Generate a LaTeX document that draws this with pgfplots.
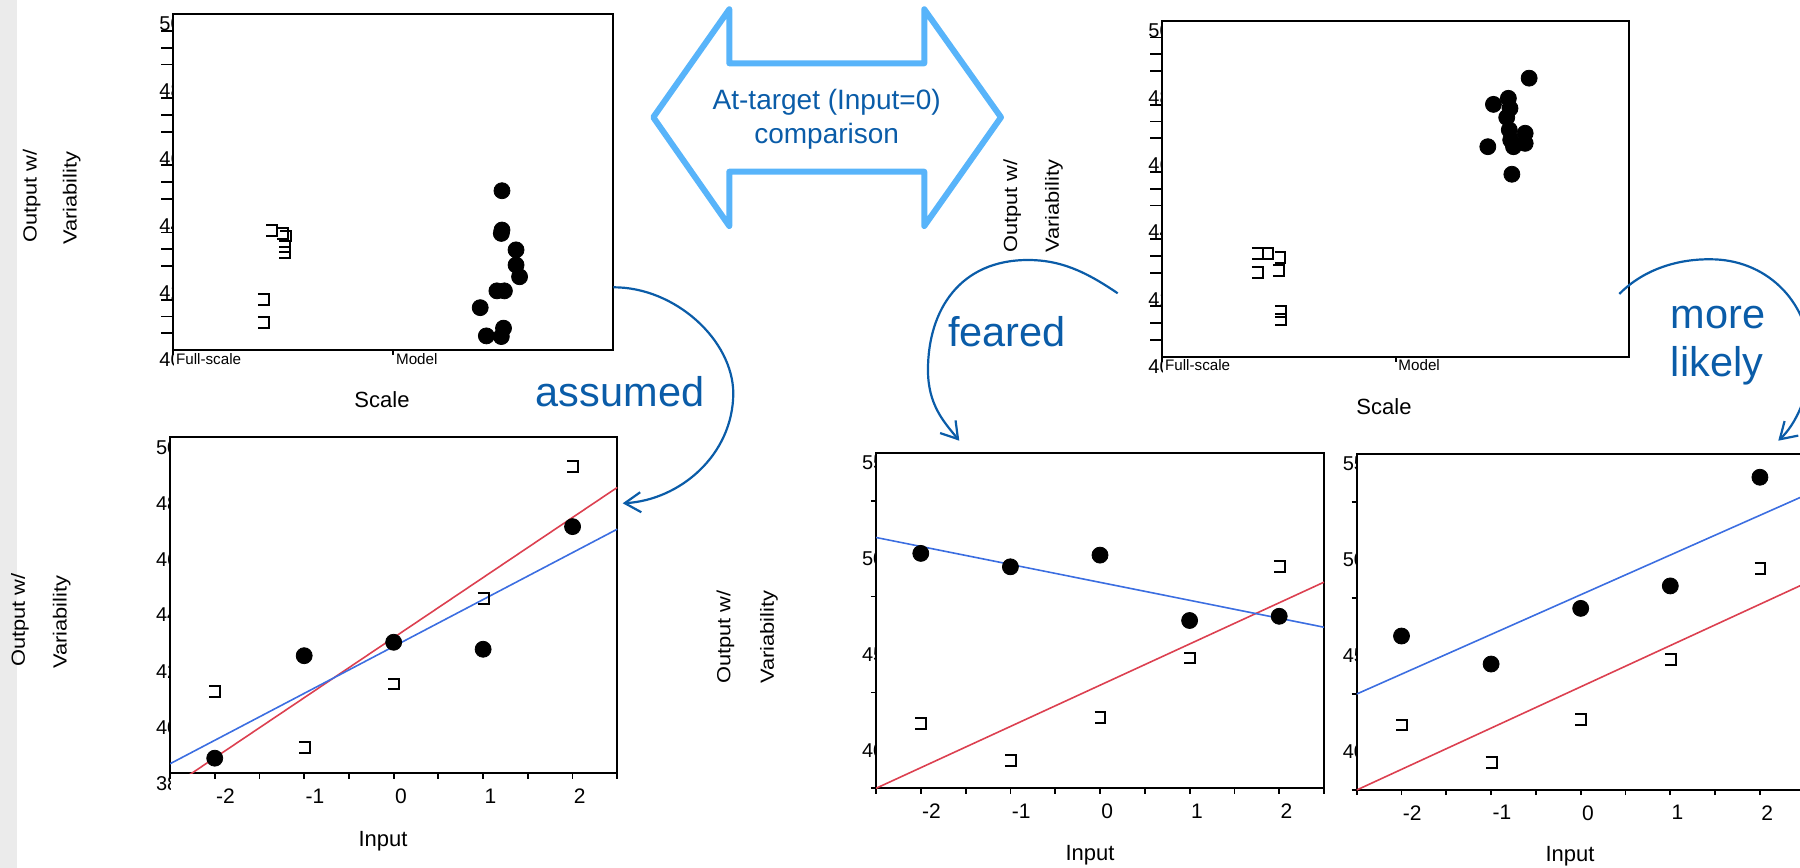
\documentclass[border=0pt]{standalone}
\usepackage{fontspec}
\setmainfont{Liberation Sans}
\newfontfamily\widefont[FakeStretch=1.15]{Liberation Sans}
\usepackage{pgfplots}
\pgfplotsset{compat=1.18}
\usetikzlibrary{arrows.meta}

\definecolor{dblue}{RGB}{10,92,168}
\definecolor{lblue}{RGB}{88,180,250}
\definecolor{fitred}{RGB}{220,64,80}
\definecolor{fitblue}{RGB}{60,110,225}
\definecolor{strip}{RGB}{235,235,235}

% open bracket marker, open on the left
\pgfdeclareplotmark{kbr}{%
  \pgfpathmoveto{\pgfqpoint{-2.7bp}{2.7bp}}%
  \pgfpathlineto{\pgfqpoint{2.7bp}{2.7bp}}%
  \pgfpathlineto{\pgfqpoint{2.7bp}{-2.7bp}}%
  \pgfpathlineto{\pgfqpoint{-2.7bp}{-2.7bp}}%
  \pgfusepathqstroke}

\pgfplotsset{
  lbl/.style={scale only axis, anchor=north west, axis line style={draw=none},
    major tick length=0pt, minor tick length=0pt, tick style={draw=none},
    tick align=inside, xtick=\empty,
    yticklabel style={anchor=north west, inner sep=0pt, xshift=-7.15bp,
      yshift=-1.2bp, font=\fontsize{10bp}{12bp}\selectfont},
    /pgf/number format/assume math mode=true},
  pan/.style={scale only axis, anchor=north west,
    axis line style={line width=1bp},
    tick style={black, line width=0.9bp}, tick align=outside, tick pos=left,
    yticklabels={}, major y tick style={draw=none},
    /pgf/number format/assume math mode=true},
  top/.style={xmin=0, xmax=2, ymin=40, ymax=50,
    ytick={40,42,...,50}, minor y tick num=3,
    major tick length=2.5bp, minor tick length=6bp,
    xtick={0,1}, xticklabels={Full-scale,Model},
    xticklabel style={anchor=north west, inner sep=0pt, xshift=1.2bp,
      yshift=1.1bp, font=\fontsize{7.6bp}{9bp}\selectfont}},
  bot/.style={xmin=-2.5, xmax=2.5, xtick={-2,...,2},
    minor xtick={-2.5,-1.5,...,2.5}, xticklabels={-2,-1,0,1,2},
    major tick length=2.6bp, minor tick length=2.6bp,
    xticklabel style={anchor=north west, inner sep=0pt, xshift=0.5bp,
      yshift=-4.9bp, font=\fontsize{10.5bp}{12bp}\selectfont}},
  dots/.style={only marks, mark=*, mark size=4bp, black},
  brk/.style={only marks, mark=kbr, black, line width=1bp},
  fitr/.style={fitred, line width=0.8bp, no marks},
  fitb/.style={fitblue, line width=0.8bp, no marks},
}

\begin{document}
\begin{tikzpicture}
\useasboundingbox (0,0) rectangle (900bp,-434bp);
\fill[strip] (0,0) rectangle (8.35bp,-434bp);

% ---------- tick labels, cut at the left axis line ----------
\begin{scope}
\clip (50bp,0bp) rectangle (86.65bp,-190bp);
\begin{axis}[lbl, at={(86.65bp,-7bp)}, width=220bp, height=168bp,
  xmin=0, xmax=2, ymin=40, ymax=50, ytick={40,42,...,50}]
\end{axis}
\end{scope}
\begin{scope}
\clip (550bp,0bp) rectangle (581.15bp,-192.5bp);
\begin{axis}[lbl, at={(581.15bp,-10.35bp)}, width=233.35bp, height=168bp,
  xmin=0, xmax=2, ymin=40, ymax=50, ytick={40,42,...,50}]
\end{axis}
\end{scope}
\begin{scope}
\clip (50bp,-210bp) rectangle (85bp,-400bp);
\begin{axis}[lbl, at={(85bp,-218.65bp)}, width=223.65bp, height=168bp,
  xmin=-2.5, xmax=2.5, ymin=38, ymax=50, ytick={38,40,...,50}]
\end{axis}
\end{scope}
\begin{scope}
\clip (410bp,-220bp) rectangle (438bp,-400bp);
\begin{axis}[lbl, at={(438bp,-226.35bp)}, width=224bp, height=167.8bp,
  xmin=-2.5, xmax=2.5, ymin=37.5, ymax=55, ytick={40,45,50,55}]
\end{axis}
\end{scope}
\begin{scope}
\clip (650bp,-220bp) rectangle (678.35bp,-402.5bp);
\begin{axis}[lbl, at={(678.35bp,-227bp)}, width=224bp, height=168bp,
  xmin=-2.5, xmax=2.5, ymin=37.5, ymax=55, ytick={40,45,50,55}]
\end{axis}
\end{scope}

% ---------- top left: Scale ----------
\begin{axis}[pan, top, at={(86.65bp,-7bp)}, width=220bp, height=168bp]
\addplot[brk] coordinates {(0.447,43.56)(0.497,43.46)(0.511,43.39)
  (0.506,43.07)(0.506,42.90)(0.409,41.51)(0.409,40.83)};
\addplot[dots] coordinates {(1.494,44.74)(1.494,43.57)(1.491,43.47)
  (1.558,42.98)(1.558,42.53)(1.574,42.18)(1.471,41.76)(1.505,41.76)
  (1.395,41.26)(1.501,40.65)(1.423,40.42)(1.491,40.40)};
\end{axis}

% ---------- top right: Scale ----------
\begin{axis}[pan, top, at={(581.15bp,-10.35bp)}, width=233.35bp, height=168bp]
\addplot[brk] coordinates {(0.407,43.06)(0.450,43.06)(0.504,42.96)
  (0.407,42.50)(0.497,42.56)(0.507,41.35)(0.507,41.11)};
\addplot[dots] coordinates {(1.572,48.29)(1.419,47.51)(1.483,47.69)
  (1.490,47.39)(1.476,47.12)(1.487,46.75)(1.555,46.65)(1.493,46.45)
  (1.555,46.35)(1.505,46.25)(1.395,46.25)(1.498,45.43)};
\end{axis}

% ---------- bottom left: assumed ----------
\begin{axis}[pan, bot, at={(85bp,-218.65bp)}, width=223.65bp, height=168bp,
  ymin=38, ymax=50, ytick=\empty]
\addplot[fitr] coordinates {(-2.5,37.48)(2.5,48.21)};
\addplot[fitb] coordinates {(-2.5,38.34)(2.5,46.72)};
\addplot[brk] coordinates {(-2,40.91)(-1,38.91)(0,41.19)(1,44.25)(2,48.97)};
\addplot[dots] coordinates {(-2,38.54)(-1,42.20)(0,42.68)(1,42.43)(2,46.81)};
\end{axis}

% ---------- bottom middle: feared ----------
\begin{axis}[pan, bot, at={(438bp,-226.35bp)}, width=224bp, height=167.8bp,
  ymin=37.5, ymax=55, ytick={40,45,50,55}, minor ytick={37.5,42.5,47.5,52.5}]
\addplot[fitr] coordinates {(-2.5,37.5)(2.5,48.25)};
\addplot[fitb] coordinates {(-2.5,50.58)(2.5,45.90)};
\addplot[brk] coordinates {(-2,40.90)(-1,38.94)(0,41.19)(1,44.30)(2,49.08)};
\addplot[dots] coordinates {(-2,49.75)(-1,49.05)(0,49.66)(1,46.25)(2,46.47)};
\end{axis}

% ---------- bottom right: more likely ----------
\begin{axis}[pan, bot, at={(678.35bp,-227bp)}, width=224bp, height=168bp,
  ymin=37.5, ymax=55, ytick={40,45,50,55}, minor ytick={37.5,42.5,47.5,52.5}]
\addplot[fitr] coordinates {(-2.5,37.5)(2.5,48.25)};
\addplot[fitb] coordinates {(-2.5,42.50)(2.5,52.84)};
\addplot[brk] coordinates {(-2,40.89)(-1,38.94)(0,41.18)(1,44.31)(2,49.05)};
\addplot[dots] coordinates {(-2,45.52)(-1,44.06)(0,46.96)(1,48.13)(2,53.79)};
\end{axis}

% ---------- annotations, in pixel units ----------
\begin{scope}[x=0.5bp, y=-0.5bp]
\tikzset{ax/.style={font=\fontsize{11bp}{13bp}\selectfont},
         yl/.style={rotate=90, font=\fontsize{9.5bp}{11bp}\widefont},
         big/.style={dblue, font=\fontsize{20.75bp}{25bp}\selectfont, anchor=base},
         carrow/.style={dblue, line width=1.1bp,
           -{Straight Barb[length=8bp,width=10bp]}}}
\node[ax] at (382,399.5) {Scale};
\node[ax] at (1384,406.7) {Scale};
\node[ax] at (383,841.7) {Input};
\node[ax] at (1090,855) {Input};
\node[ax] at (1570,856.7) {Input};

\node[yl] at (31.7,196) {Output w/};
\node[yl] at (71.7,198) {Variability};
\node[yl] at (20,620) {Output w/};
\node[yl] at (61.7,622) {Variability};
\node[yl] at (1012.3,206) {Output w/};
\node[yl] at (1054,206) {Variability};
\node[yl] at (725.5,637) {Output w/};
\node[yl] at (769,637) {Variability};

\draw[lblue, line width=3bp, line join=round]
  (653.3,117.3) -- (729.3,9.3) -- (729.3,63.3) -- (924.3,63.3) -- (924.3,9.3)
  -- (1001,117.3) -- (924.3,226) -- (924.3,171.7) -- (729.3,171.7)
  -- (729.3,226) -- cycle;
\node[dblue, font=\fontsize{14bp}{17bp}\selectfont, anchor=base]
  at (826.7,110) {At-target (Input=0)};
\node[dblue, font=\fontsize{14bp}{17bp}\selectfont, anchor=base]
  at (826.7,143.3) {comparison};

\draw[carrow] (613.3,287.3) .. controls (675,287) and (733,340) .. (733.3,393.3)
  .. controls (733,455) and (680,500) .. (622.7,503.3);
\draw[carrow] (1117.7,293.3) .. controls (1085,271) and (1060,260) .. (1028,260)
  .. controls (960,260) and (928,310) .. (928,370)
  .. controls (928,405) and (944,422) .. (959.3,440.7);
\draw[carrow] (1619.3,294) .. controls (1645,268) and (1680,259) .. (1710,259.3)
  .. controls (1765,259) and (1808,300) .. (1810,355)
  .. controls (1811,395) and (1795,425) .. (1778.3,440.7);

\node[big] at (620,406.7) {assumed};
\node[big] at (1007,347) {feared};
\node[big] at (1718,329) {more};
\node[big] at (1717,376.7) {likely};
\end{scope}
\end{tikzpicture}
\end{document}
